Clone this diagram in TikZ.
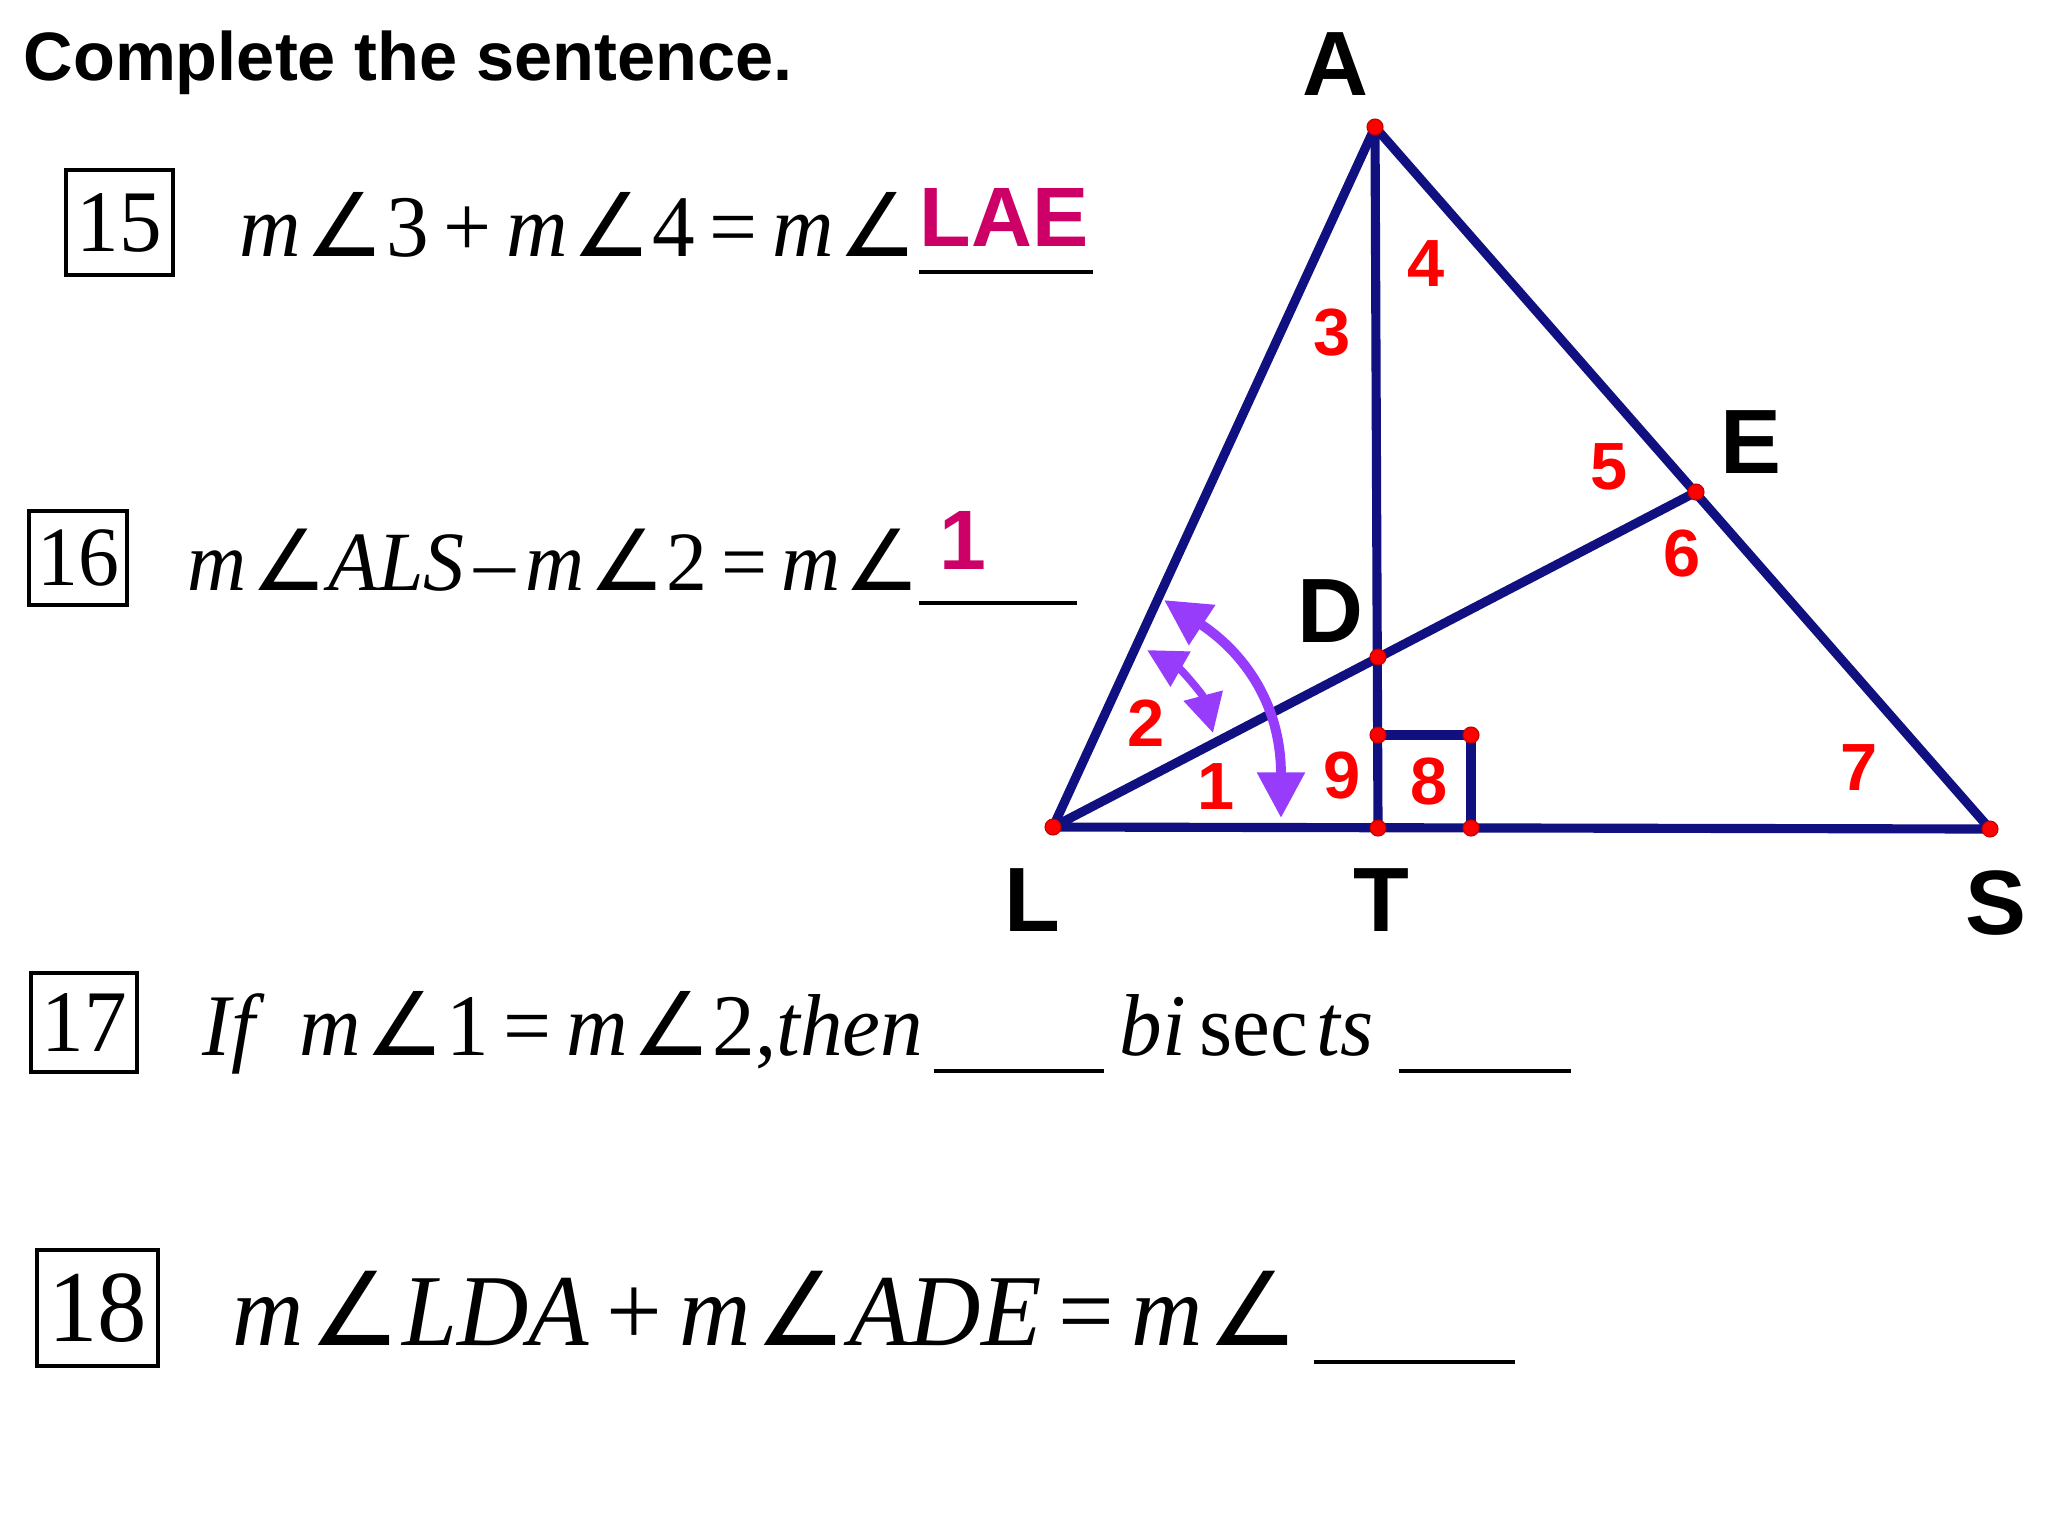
\documentclass[tikz,border=0pt]{standalone}
\usepackage{fontspec}
\setmainfont{Liberation Serif}
\setsansfont{Liberation Sans}
\newfontfamily\eqfont{Liberation Serif}[FakeStretch=0.97]
\newfontfamily\symfont{DejaVu Sans}
\usepackage{tikz}
\usetikzlibrary{arrows.meta}
\definecolor{navy}{RGB}{16,16,128}
\definecolor{answer}{RGB}{204,0,102}
\definecolor{purp}{RGB}{150,60,250}
\newcommand{\ang}{\hspace{0.05em}{\symfont\upshape ∠}\hspace{0.02em}}
\tikzset{
  seg/.style={navy, line width=2.6pt, line cap=round, line join=round},
  dot/.style={circle, fill=red, draw=red!75!black, line width=0.3pt, inner sep=0pt, minimum size=1.6mm},
  vlabel/.style={inner sep=0pt, font=\sffamily\bfseries\fontsize{26}{26}\selectfont},
  num/.style={inner sep=0pt, text=red, font=\sffamily\bfseries\fontsize{19}{19}\selectfont},
  ans/.style={inner sep=0pt, anchor=base, text=answer, font=\sffamily\bfseries\fontsize{24}{24}\selectfont},
  eq/.style={inner sep=0pt, anchor=base west, font=\eqfont\fontsize{25}{30}\selectfont},
  qbox/.style={draw, line width=1pt, inner sep=0pt, font=\eqfont\fontsize{25}{30}\selectfont},
  blank/.style={line width=1.1pt},
  turn/.style={purp, line width=2.8pt, {Triangle[length=13pt,width=13pt]}-{Triangle[length=13pt,width=13pt]}},
  smallturn/.style={purp, line width=2.2pt, {Triangle[length=11pt,width=11pt]}-{Triangle[length=11pt,width=11pt]}},
}
\begin{document}
\begin{tikzpicture}[x=0.1mm,y=-0.1mm]
  \useasboundingbox (0,0) rectangle (2048,1536);
  %%%%% TITLE %%%%%
  \node[inner sep=0pt, anchor=base west, font=\sffamily\bfseries\fontsize{19.5}{24}\selectfont] (head) at (23,80) {Complete the sentence.};

  %%%%% QUESTIONS %%%%%
  \node[qbox, minimum width=10.7mm, minimum height=10.5mm] (b15) at (119.5,222.5) {15};
  \node[eq] (q15) at (239,256) {\textit{m}\ang3\,+\,\textit{m}\ang4\,=\,\textit{m}\ang};
  \draw[blank] (919,272) -- (1093,272);
  \node[ans] (a15) at (1004,246) {LAE};

  \node[qbox, minimum width=9.8mm, minimum height=9.4mm, font=\eqfont\fontsize{24}{29}\selectfont] (b16) at (78,558) {16};
  \node[eq, font=\eqfont\fontsize{24}{29}\selectfont] (q16) at (187,590) {\textit{m}\ang\textit{ALS}\hspace{0.12em}–\hspace{0.12em}\textit{m}\ang2\,=\,\textit{m}\ang};
  \draw[blank] (919,603) -- (1077,603);
  \node[ans] (a16) at (963,569) {1};

  \node[qbox, minimum width=10.6mm, minimum height=9.9mm] (b17) at (84,1022.5) {17};
  \node[eq] (q17) at (202,1055) {\textit{If}\hspace{0.4em}\textit{m}\ang1\,=\,\textit{m}\ang2,\textit{then}};
  \draw[blank] (934,1071) -- (1104,1071);
  \node[eq] (q17b) at (1119,1055) {\textit{bi}\hspace{0.15em}sec\hspace{0.1em}\textit{ts}};
  \draw[blank] (1399,1071) -- (1571,1071);

  \node[qbox, minimum width=12.1mm, minimum height=11.6mm, font=\eqfont\fontsize{29}{34}\selectfont] (b18) at (97.5,1308) {18};
  \node[eq, font=\eqfont\fontsize{29}{34}\selectfont] (q18) at (232,1345) {\textit{m}\ang\textit{LDA}\,+\,\textit{m}\ang\textit{ADE}\,=\,\textit{m}\ang};
  \draw[blank] (1314,1362) -- (1515,1362);

  %%%%% FIGURE %%%%%
  \coordinate (A) at (1375,127);
  \coordinate (L) at (1053,827);
  \coordinate (S) at (1990,829);
  \coordinate (T) at (1378,828);
  \coordinate (D) at (1378,657);
  \coordinate (E) at (1696,492);
  \coordinate (R1) at (1378,735);
  \coordinate (R2) at (1471,735);
  \coordinate (R3) at (1471,828);

  \draw[seg] (L) -- (A) -- (S) -- cycle;
  \draw[seg] (A) -- (T);
  \draw[seg] (L) -- (E);
  \draw[seg] (R1) -- (R2) -- (R3);
  \foreach \p in {A,L,S,T,D,E,R1,R2,R3}
    \node[dot] (dot\p) at (\p) {};

  \node[vlabel] (lA) at (1335,64) {A};
  \node[vlabel] (lE) at (1751,442) {E};
  \node[vlabel] (lD) at (1330,611) {D};
  \node[vlabel] (lL) at (1032,900) {L};
  \node[vlabel] (lT) at (1381,900) {T};
  \node[vlabel] (lS) at (1996,903) {S};

  \node[num] (n1) at (1216,787) {1};
  \node[num] (n2) at (1146,723) {2};
  \node[num] (n3) at (1332,333) {3};
  \node[num] (n4) at (1426,264) {4};
  \node[num] (n5) at (1609,467) {5};
  \node[num] (n6) at (1682,553) {6};
  \node[num] (n7) at (1859,768) {7};
  \node[num] (n8) at (1429,781) {8};
  \node[num] (n9) at (1342,775) {9};

  % angle arrows
  \coordinate (w1) at (1164,600);
  \coordinate (w2) at (1281,818);
  \coordinate (v1) at (1147,650);
  \coordinate (v2) at (1213,733);
  \draw[turn] (w1) .. controls (1240,650) and (1281,700) .. (w2);
  \draw[smallturn] (v1) .. controls (1182,670) and (1203,695) .. (v2);
\end{tikzpicture}
\end{document}
